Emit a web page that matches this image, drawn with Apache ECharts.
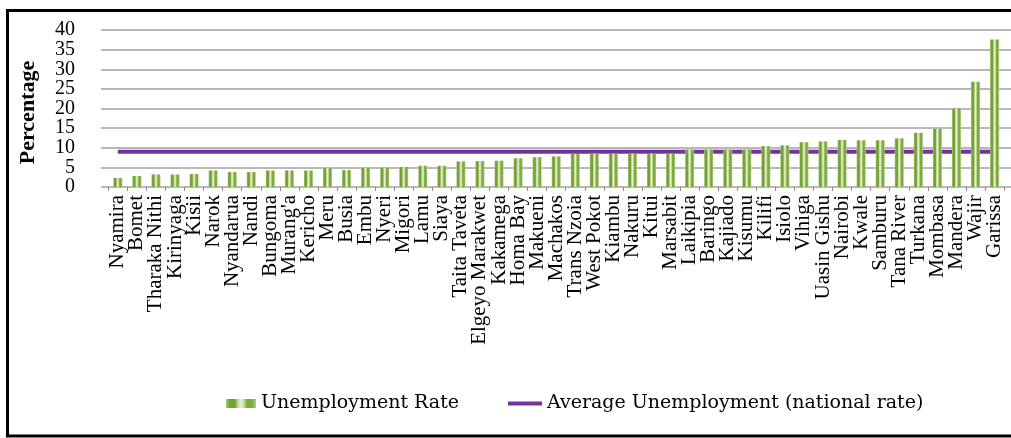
<!DOCTYPE html>
<html>
<head>
<meta charset="utf-8">
<style>
  html, body { margin: 0; padding: 0; background: #ffffff; }
  #chart { width: 1011px; height: 438px; }
</style>
<script src="https://cdn.jsdelivr.net/npm/echarts@6/dist/echarts.min.js"></script>
</head>
<body>
<div id="chart"></div>
<script>
// ---- data ----
const counties = [
  "Nyamira", "Bomet", "Tharaka Nithi", "Kirinyaga", "Kisii", "Narok", "Nyandarua", "Nandi",
  "Bungoma", "Murang'a", "Kericho", "Meru", "Busia", "Embu", "Nyeri", "Migori", "Lamu",
  "Siaya", "Taita Taveta", "Elgeyo Marakwet", "Kakamega", "Homa Bay", "Makueni", "Machakos",
  "Trans Nzoia", "West Pokot", "Kiambu", "Nakuru", "Kitui", "Marsabit", "Laikipia", "Baringo",
  "Kajiado", "Kisumu", "Kilifi", "Isiolo", "Vihiga", "Uasin Gishu", "Nairobi", "Kwale",
  "Samburu", "Tana River", "Turkana", "Mombasa", "Mandera", "Wajir", "Garissa"
];
const unemploymentRate = [
  2.3, 2.8, 3.2, 3.2, 3.3, 4.2, 3.8, 3.8,
  4.2, 4.2, 4.2, 4.8, 4.3, 4.9, 4.9, 5.1, 5.4,
  5.4, 6.5, 6.6, 6.7, 7.3, 7.6, 7.8,
  8.4, 8.5, 8.5, 8.5, 8.5, 8.5, 9.5, 9.5,
  9.5, 9.5, 10.4, 10.6, 11.4, 11.6, 12.0, 11.9,
  11.9, 12.4, 13.8, 14.8, 20.0, 26.8, 37.6
];
const nationalRate = 9.0;
// y ticks: 0..40 every 5 (drawn as two interleaved label sets so none get hidden)
const yMin = 0, yMax = 40, yStep = 5;
const seriesNames = ["Unemployment Rate", "Average Unemployment (national rate)"];

const averageLine = counties.map(() => nationalRate);

const chart = echarts.init(document.getElementById('chart'), null, { renderer: 'canvas' });

const barGradient = new echarts.graphic.LinearGradient(0, 0, 1, 0, [
  { offset: 0.00, color: '#a9cb7c' },
  { offset: 0.12, color: '#76a136' },
  { offset: 0.30, color: '#76a136' },
  { offset: 0.40, color: '#c3dc9d' },
  { offset: 0.50, color: '#e8f2da' },
  { offset: 0.60, color: '#c3dc9d' },
  { offset: 0.70, color: '#7eaa3e' },
  { offset: 0.86, color: '#7eaa3e' },
  { offset: 1.00, color: '#b2d088' }
]);

const serif = '"Liberation Serif", "Times New Roman", serif';
const legendText = { fontFamily: '"DejaVu Serif", serif', fontSize: 19, color: '#000000' };

const plotTop = 30, plotH = 157;
const unit = plotH / (yMax - yMin);

const yLabelStyle = { margin: 26, fontFamily: serif, fontSize: 20, color: '#000000', showMinLabel: true, showMaxLabel: true };
const gridLineStyle = { show: true, lineStyle: { color: '#a0a0a0', width: 1.5 } };

chart.setOption({
  animation: false,
  backgroundColor: '#ffffff',
  graphic: [{
    type: 'rect',
    shape: { x: 7.5, y: 10.5, width: 1030, height: 425.5 },
    style: { fill: 'none', stroke: '#000000', lineWidth: 3 },
    silent: true,
    z: 100
  }],
  legend: [
    {
      left: 226,
      top: 394,
      padding: 0,
      itemWidth: 30,
      itemHeight: 9,
      textStyle: legendText,
      data: [{ name: seriesNames[0], icon: 'rect' }]
    },
    {
      left: 508,
      top: 394,
      padding: 0,
      itemWidth: 34,
      itemHeight: 4,
      textStyle: legendText,
      data: [{ name: seriesNames[1], icon: 'rect' }]
    }
  ],
  grid: [
    { left: 101, right: 0, top: plotTop, height: plotH },
    { left: 108.3, right: 6.9, top: plotTop, height: plotH },
    { left: 101, right: 0, top: plotTop + unit * yStep, height: plotH - 2 * unit * yStep }
  ],
  xAxis: [
    { gridIndex: 0, type: 'value', min: 0, max: 1, show: false },
    {
      gridIndex: 1,
      type: 'category',
      data: counties,
      boundaryGap: true,
      axisLine: { show: false },
      axisTick: { show: true, length: 4, lineStyle: { color: '#8c8c8c', width: 1 } },
      axisLabel: {
        rotate: 90,
        interval: 0,
        margin: 8,
        fontFamily: serif,
        fontSize: 21,
        color: '#000000'
      }
    },
    { gridIndex: 2, type: 'value', min: 0, max: 1, show: false }
  ],
  yAxis: [
    {
      gridIndex: 0,
      type: 'value',
      min: yMin, max: yMax, interval: yStep * 2,
      name: 'Percentage',
      nameLocation: 'middle',
      nameRotate: 90,
      nameGap: 62,
      nameTextStyle: { fontFamily: serif, fontSize: 22, fontWeight: 'bold', color: '#000000', padding: [0, 8, 0, 0] },
      axisLine: { show: false },
      axisTick: { show: false },
      axisLabel: yLabelStyle,
      splitLine: gridLineStyle
    },
    {
      gridIndex: 1,
      type: 'value',
      min: yMin, max: yMax, interval: yStep,
      show: false,
      splitLine: { show: false }
    },
    {
      gridIndex: 2,
      type: 'value',
      min: yMin + yStep, max: yMax - yStep, interval: yStep * 2,
      axisLine: { show: false },
      axisTick: { show: false },
      axisLabel: yLabelStyle,
      splitLine: gridLineStyle
    }
  ],
  series: [
    {
      name: seriesNames[0],
      type: 'bar',
      xAxisIndex: 1,
      yAxisIndex: 1,
      data: unemploymentRate,
      barWidth: 9,
      itemStyle: { color: barGradient },
      z: 3
    },
    {
      name: seriesNames[1],
      type: 'line',
      xAxisIndex: 1,
      yAxisIndex: 1,
      data: averageLine,
      symbol: 'none',
      showSymbol: false,
      lineStyle: { color: '#7432a0', width: 4 },
      itemStyle: { color: '#7432a0' },
      z: 2
    }
  ]
});
</script>
</body>
</html>
